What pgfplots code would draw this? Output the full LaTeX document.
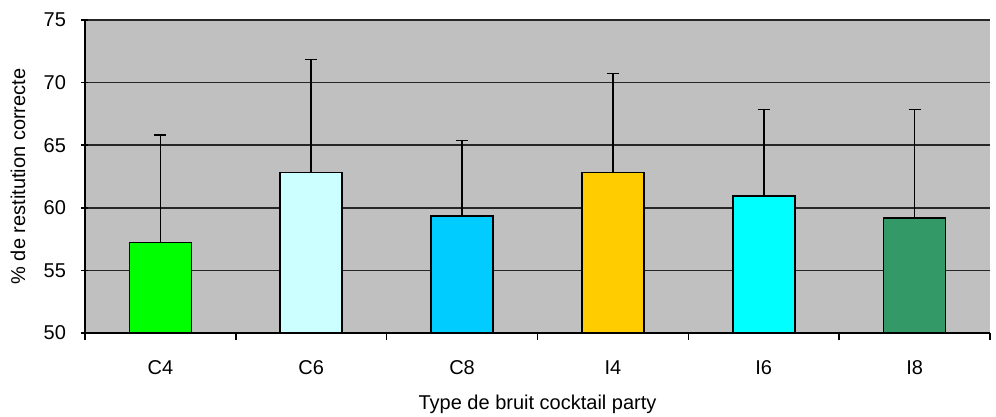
\documentclass[border=0pt]{standalone}
\usepackage{pgfplots}
\pgfplotsset{compat=1.18}
\usepackage{fontspec}
\setmainfont{Liberation Sans}
\usetikzlibrary{calc}

\definecolor{plotgray}{HTML}{C0C0C0}
\definecolor{cC4}{HTML}{00FF00}
\definecolor{cC6}{HTML}{CCFFFF}
\definecolor{cC8}{HTML}{00CCFF}
\definecolor{cI4}{HTML}{FFCC00}
\definecolor{cI6}{HTML}{00FFFF}
\definecolor{cI8}{HTML}{339966}

\pgfplotsset{
    errbar/.style={
        fill=#1, draw=black, line width=1.6pt,
        error bars/y dir=plus,
        error bars/y explicit,
        error bars/error bar style={black, line width=1.6pt},
        error bars/error mark options={black, line width=1.6pt, mark size=6pt, rotate=90},
    }
}

\begin{document}
\begin{tikzpicture}
\begin{axis}[
    name=ax,
    scale only axis,
    width=905pt, height=313pt,
    xmin=-0.5, xmax=5.5,
    ymin=50, ymax=75,
    ytick={50,55,...,75},
    xtick={0,...,5},
    xticklabels={C4,C6,C8,I4,I6,I8},
    minor xtick={-0.5,0.5,...,5.5},
    major x tick style={draw=none},
    minor x tick style={black, line width=1.5pt},
    y tick style={black, line width=1.5pt},
    tick align=outside,
    major tick length=7pt,
    minor tick length=7pt,
    axis x line=bottom,
    axis y line=left,
    axis line style={-, black, line width=1.5pt},
    axis background/.style={fill=plotgray},
    ymajorgrids,
    major grid style={black!85, line width=1.5pt},
    ybar,
    bar width=62pt,
    bar shift=0pt,
    /pgf/number format/assume math mode=true,
    font=\fontsize{20}{24}\selectfont,
    ticklabel style={font=\fontsize{20}{24}\selectfont},
    xticklabel style={yshift=-17pt},
    yticklabel style={xshift=-12pt},
    xlabel={Type de bruit cocktail party},
    ylabel={\% de restitution correcte},
    every axis x label/.style={at={(rel axis cs:0.5,0)}, anchor=center, yshift=-71pt},
    every axis y label/.style={at={(rel axis cs:0,0.5)}, rotate=90, anchor=center, yshift=67pt},
]
\addplot[errbar=cC4] coordinates {(0,57.23) +- (0,8.57)};
\addplot[errbar=cC6] coordinates {(1,62.83) +- (0,9.03)};
\addplot[errbar=cC8] coordinates {(2,59.33) +- (0,6.04)};
\addplot[errbar=cI4] coordinates {(3,62.82) +- (0,7.90)};
\addplot[errbar=cI6] coordinates {(4,60.93) +- (0,6.92)};
\addplot[errbar=cI8] coordinates {(5,59.17) +- (0,8.68)};
\end{axis}
\pgfresetboundingbox
\path ($(ax.south west)+(-85pt,-84pt)$) rectangle ($(ax.north east)+(6pt,20pt)$);
\end{tikzpicture}
\end{document}
